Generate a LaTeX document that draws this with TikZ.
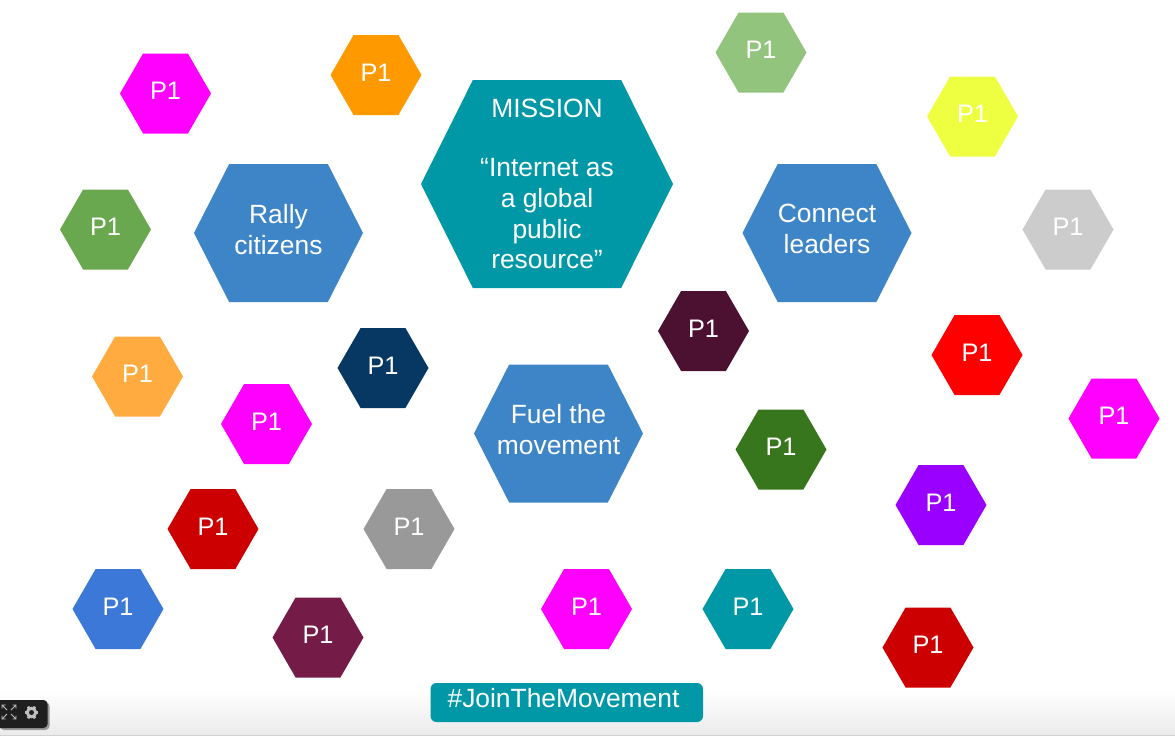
\documentclass[tikz,border=0pt]{standalone}
\usepackage{fontspec}
\setmainfont{Liberation Sans}
\usetikzlibrary{shapes.symbols}
\definecolor{tealhex}{HTML}{0097A7}
\definecolor{bluehex}{HTML}{3D85C6}
\definecolor{magentahex}{HTML}{FF00FF}
\definecolor{orangehex}{HTML}{FF9900}
\definecolor{sagehex}{HTML}{93C47D}
\definecolor{limehex}{HTML}{EEFF41}
\definecolor{silverhex}{HTML}{CCCCCC}
\definecolor{leafhex}{HTML}{6AA84F}
\definecolor{peachhex}{HTML}{FFAB40}
\definecolor{navyhex}{HTML}{073763}
\definecolor{plumhex}{HTML}{4C1130}
\definecolor{redhex}{HTML}{FF0000}
\definecolor{foresthex}{HTML}{38761D}
\definecolor{purplehex}{HTML}{9900FF}
\definecolor{crimsonhex}{HTML}{CC0000}
\definecolor{greyhex}{HTML}{999999}
\definecolor{royalhex}{HTML}{3C78D8}
\definecolor{winehex}{HTML}{741B47}

\begin{document}
\begin{tikzpicture}[
  x=0.75pt,y=-0.75pt,
  hexagon/.style={signal,signal to=east and west,inner sep=0pt,text=white,align=center},
  small/.style={hexagon,signal pointer angle=120,minimum width=68.25pt,minimum height=60pt,text depth=4pt,font=\fontsize{19}{22}\selectfont},
  medium/.style={hexagon,fill=bluehex,inner xsep=-10pt,signal pointer angle=126,minimum width=126.75pt,minimum height=103.5pt,text depth=6pt,font=\fontsize{19.8}{23.2}\selectfont},
  mission/.style={hexagon,fill=tealhex,signal pointer angle=127,minimum width=189pt,minimum height=156pt,font=\fontsize{19.8}{23.2}\selectfont}
]
  \useasboundingbox (0,0) rectangle (1175,736);

  % strip along the bottom
  \fill[white] (0,0) rectangle (1175,736);
  \shade[top color=white,bottom color=black!8] (0,690) rectangle (1175,735);
  \draw[black!18,line width=0.75pt] (0,735.5) -- (1175,735.5);

  \node[mission] (mission) at (547,184) {MISSION\\[21pt]“Internet as\\a global\\public\\resource”};
  \node[medium] (rally) at (278.5,233) {Rally\\citizens};
  \node[medium] (connect) at (827,233) {Connect\\leaders};
  \node[medium] (fuel) at (558.5,433.5) {Fuel the\\movement};

  \node[small,fill=magentahex] (p1a) at (165.5,93.5) {P1};
  \node[small,fill=orangehex] (p1b) at (376,75) {P1};
  \node[small,fill=sagehex] (p1c) at (761,52.5) {P1};
  \node[small,fill=limehex] (p1d) at (972.5,116.5) {P1};
  \node[small,fill=silverhex] (p1e) at (1068,229.5) {P1};
  \node[small,fill=leafhex] (p1f) at (105.5,229.5) {P1};
  \node[small,fill=peachhex] (p1g) at (137.5,376.5) {P1};
  \node[small,fill=navyhex] (p1h) at (383,368) {P1};
  \node[small,fill=magentahex] (p1i) at (266.5,424) {P1};
  \node[small,fill=plumhex] (p1j) at (703.5,331) {P1};
  \node[small,fill=redhex] (p1k) at (977,355) {P1};
  \node[small,fill=magentahex] (p1l) at (1114,418.5) {P1};
  \node[small,fill=foresthex] (p1m) at (781,449.5) {P1};
  \node[small,fill=purplehex] (p1n) at (941,505) {P1};
  \node[small,fill=crimsonhex] (p1o) at (213,529) {P1};
  \node[small,fill=greyhex] (p1p) at (409,529) {P1};
  \node[small,fill=royalhex] (p1q) at (118,609) {P1};
  \node[small,fill=winehex] (p1r) at (318,637.5) {P1};
  \node[small,fill=magentahex] (p1s) at (586.5,609) {P1};
  \node[small,fill=tealhex] (p1t) at (748,609) {P1};
  \node[small,fill=crimsonhex] (p1u) at (928,647.5) {P1};

  \fill[tealhex,rounded corners=4.5pt] (430.5,683) rectangle (703,722);
  \node[text=white,font=\fontsize{19.8}{23}\selectfont,inner sep=0pt] (hashtag) at (563.5,698) {\#JoinTheMovement};

  % viewer controls
  \fill[black!40,rounded corners=3pt] (0,702) rectangle (49.5,730);
  \fill[black!88,rounded corners=3pt] (-6,700) rectangle (47.5,728);
  \foreach \sx/\sy in {1/1,1/-1,-1/1,-1/-1}
    \draw[black!25,line width=0.7pt] (9+2*\sx,712+2*\sy) -- (9+7*\sx,712+7*\sy)
      (9+7*\sx,712+3.5*\sy) -- (9+7*\sx,712+7*\sy) -- (9+3.5*\sx,712+7*\sy);
  \draw[black!25,line width=2.2pt] (31.5,712.5) circle (4.2);
  \foreach \ang in {0,60,...,300}
    \draw[black!25,line width=2pt] (31.5,712.5) ++(\ang:4.5) -- ++(\ang:2.3);
\end{tikzpicture}
\end{document}
